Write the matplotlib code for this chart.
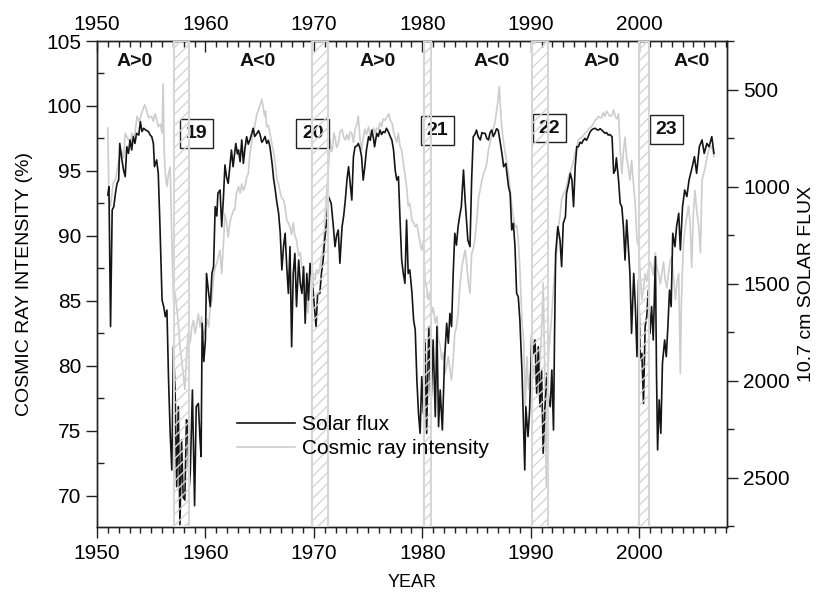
import matplotlib
matplotlib.use("Agg")
import matplotlib.pyplot as plt
from matplotlib.ticker import MultipleLocator
from matplotlib.lines import Line2D

plt.rcParams['font.family'] = ['Liberation Sans', 'DejaVu Sans']
plt.rcParams['hatch.linewidth'] = 1.0

# 10.7 cm solar flux (right axis, inverted) as (year, flux)
solar_flux = [
    (1951.0, 1042), (1951.1, 999), (1951.25, 1720), (1951.4, 1119), (1951.55, 1102), (1951.7, 1033),
    (1951.85, 982), (1952.0, 965), (1952.1, 776), (1952.3, 861), (1952.45, 913), (1952.6, 947),
    (1952.75, 793), (1952.9, 827), (1953.05, 758), (1953.2, 810), (1953.35, 741), (1953.5, 776),
    (1953.65, 724), (1953.85, 733), (1954.0, 664), (1954.15, 715), (1954.3, 698), (1954.5, 707),
    (1954.75, 715), (1954.9, 733), (1955.05, 741), (1955.2, 776), (1955.3, 896), (1955.5, 861),
    (1955.65, 930), (1955.8, 1188), (1956.0, 1583), (1956.15, 1617), (1956.3, 1669), (1956.45, 1635),
    (1956.6, 1995), (1956.75, 2270), (1956.9, 2459), (1957.05, 1824), (1957.2, 2047), (1957.35, 2545),
    (1957.5, 2133), (1957.65, 2740), (1957.8, 2305), (1957.95, 2600), (1958.1, 2614), (1958.25, 2200),
    (1958.35, 2219), (1958.5, 2550), (1958.6, 2476), (1958.8, 2047), (1959.0, 2643), (1959.15, 2133),
    (1959.35, 2116), (1959.5, 2300), (1959.6, 2390), (1959.7, 1703), (1959.85, 1900), (1960.0, 1789),
    (1960.1, 1446), (1960.3, 1550), (1960.45, 1617), (1960.6, 1446), (1960.75, 1411), (1960.9, 1102),
    (1961.05, 1150), (1961.15, 1033), (1961.35, 1016), (1961.5, 1205), (1961.65, 1068), (1961.8, 887),
    (1961.95, 950), (1962.1, 982), (1962.25, 896), (1962.4, 810), (1962.55, 896), (1962.8, 776),
    (1962.95, 830), (1963.05, 810), (1963.2, 870), (1963.35, 758), (1963.5, 879), (1963.65, 800),
    (1963.8, 741), (1963.95, 780), (1964.1, 758), (1964.25, 730), (1964.4, 698), (1964.55, 740),
    (1964.75, 724), (1964.9, 710), (1965.05, 733), (1965.2, 770), (1965.35, 758), (1965.5, 740),
    (1965.65, 776), (1965.8, 760), (1965.95, 793), (1966.15, 880), (1966.3, 965), (1966.4, 999),
    (1966.6, 1085), (1966.75, 1136), (1966.9, 1239), (1967.05, 1428), (1967.2, 1308), (1967.35, 1239),
    (1967.5, 1411), (1967.65, 1549), (1967.8, 1308), (1967.95, 1824), (1968.1, 1446), (1968.25, 1343),
    (1968.4, 1617), (1968.6, 1377), (1968.75, 1500), (1968.9, 1549), (1969.05, 1411), (1969.2, 1703),
    (1969.35, 1446), (1969.5, 1583), (1969.65, 1394), (1969.85, 1480), (1970.05, 1617), (1970.2, 1720),
    (1970.35, 1549), (1970.55, 1549), (1970.7, 1446), (1970.85, 1380), (1971.0, 1274), (1971.2, 1171),
    (1971.35, 1050), (1971.6, 1085), (1971.8, 1205), (1971.95, 1308), (1972.1, 1250), (1972.25, 1222),
    (1972.4, 1394), (1972.6, 1205), (1972.75, 1150), (1972.9, 1068), (1973.05, 965), (1973.2, 896),
    (1973.35, 980), (1973.5, 1068), (1973.65, 844), (1973.8, 793), (1973.95, 790), (1974.1, 776),
    (1974.25, 800), (1974.4, 844), (1974.55, 965), (1974.7, 896), (1974.85, 810), (1975.05, 741),
    (1975.2, 760), (1975.35, 707), (1975.5, 750), (1975.6, 793), (1975.8, 724), (1975.95, 740),
    (1976.1, 707), (1976.25, 730), (1976.4, 715), (1976.55, 720), (1976.7, 698), (1976.9, 720),
    (1977.05, 741), (1977.2, 760), (1977.35, 810), (1977.5, 913), (1977.65, 965), (1977.8, 947),
    (1977.95, 1171), (1978.1, 1377), (1978.25, 1446), (1978.4, 1497), (1978.55, 1171), (1978.7, 1446),
    (1978.85, 1428), (1979.05, 1549), (1979.2, 1686), (1979.35, 1738), (1979.5, 1995), (1979.65, 2167),
    (1979.8, 2270), (1979.95, 1978), (1980.1, 2167), (1980.25, 1789), (1980.4, 2270), (1980.6, 1720),
    (1980.8, 2133), (1981.0, 1789), (1981.2, 2184), (1981.35, 1720), (1981.5, 2236), (1981.65, 2047),
    (1981.85, 2253), (1982.05, 1892), (1982.25, 1703), (1982.4, 1806), (1982.55, 1652), (1982.7, 1720),
    (1982.85, 1446), (1983.0, 1239), (1983.15, 1300), (1983.3, 1205), (1983.45, 1150), (1983.6, 1102),
    (1983.8, 913), (1983.95, 1068), (1984.05, 1150), (1984.2, 1274), (1984.4, 1308), (1984.55, 965),
    (1984.7, 741), (1984.85, 730), (1985.0, 707), (1985.15, 740), (1985.35, 758), (1985.5, 720),
    (1985.65, 724), (1985.8, 724), (1985.95, 750), (1986.1, 758), (1986.25, 720), (1986.4, 707),
    (1986.55, 740), (1986.7, 724), (1986.85, 700), (1987.0, 707), (1987.1, 740), (1987.25, 793),
    (1987.4, 850), (1987.5, 896), (1987.7, 879), (1987.95, 999), (1988.1, 1033), (1988.25, 1222),
    (1988.4, 1188), (1988.55, 1308), (1988.7, 1549), (1988.85, 1566), (1989.0, 1686), (1989.2, 1961),
    (1989.35, 2270), (1989.45, 2459), (1989.55, 2133), (1989.75, 2287), (1989.9, 2150), (1990.1, 1755),
    (1990.25, 1858), (1990.4, 1789), (1990.55, 2064), (1990.7, 1824), (1990.85, 2133), (1991.0, 1944),
    (1991.15, 2373), (1991.3, 2150), (1991.5, 1961), (1991.65, 2098), (1991.8, 2133), (1991.95, 1944),
    (1992.1, 2253), (1992.2, 1755), (1992.3, 1343), (1992.5, 1205), (1992.7, 1274), (1992.85, 1411),
    (1993.0, 1188), (1993.2, 1154), (1993.3, 1033), (1993.5, 982), (1993.65, 930), (1993.8, 965),
    (1993.95, 1102), (1994.1, 896), (1994.25, 793), (1994.4, 793), (1994.55, 770), (1994.7, 776),
    (1994.85, 760), (1995.0, 750), (1995.15, 760), (1995.3, 741), (1995.45, 720), (1995.6, 707),
    (1995.8, 700), (1995.95, 698), (1996.1, 705), (1996.25, 707), (1996.4, 700), (1996.55, 707),
    (1996.7, 715), (1996.85, 724), (1997.0, 720), (1997.15, 733), (1997.3, 730), (1997.5, 741),
    (1997.65, 930), (1997.8, 913), (1997.9, 850), (1998.1, 965), (1998.25, 1085), (1998.4, 1102),
    (1998.55, 1205), (1998.7, 1377), (1998.85, 1171), (1999.0, 1308), (1999.15, 1446), (1999.3, 1755),
    (1999.5, 1446), (1999.65, 1617), (1999.8, 1875), (1999.95, 1480), (2000.1, 1892), (2000.25, 1858),
    (2000.4, 2116), (2000.55, 1720), (2000.7, 1669), (2000.85, 1532), (2001.0, 1755), (2001.15, 1617),
    (2001.3, 1789), (2001.5, 1360), (2001.6, 1961), (2001.7, 2356), (2001.85, 2098), (2002.0, 2270),
    (2002.15, 1909), (2002.35, 1789), (2002.5, 1875), (2002.65, 1720), (2002.8, 1532), (2002.95, 1617),
    (2003.1, 1239), (2003.3, 1308), (2003.45, 1205), (2003.65, 1136), (2003.8, 1325), (2004.0, 1102),
    (2004.2, 1016), (2004.4, 1050), (2004.6, 965), (2004.9, 896), (2005.1, 844), (2005.3, 930),
    (2005.55, 793), (2005.8, 758), (2006.0, 827), (2006.25, 776), (2006.45, 793), (2006.7, 741),
    (2006.9, 827),
]

# cosmic ray intensity (left axis, %) as (year, value)
cosmic_ray = [
    (1951.0, 98.3), (1951.1, 93.0), (1951.25, 92.3), (1951.5, 94.1), (1951.7, 94.3), (1951.85, 95.0),
    (1952.0, 95.8), (1952.25, 96.6), (1952.45, 96.0), (1952.6, 97.9), (1952.9, 97.4), (1953.1, 97.1),
    (1953.2, 97.9), (1953.45, 97.6), (1953.7, 99.2), (1953.9, 98.8), (1954.1, 99.4), (1954.4, 100.1),
    (1954.6, 99.6), (1954.75, 99.1), (1955.05, 99.2), (1955.2, 98.8), (1955.35, 99.4), (1955.5, 99.0),
    (1955.65, 98.4), (1955.85, 98.6), (1956.0, 97.9), (1956.1, 101.7), (1956.2, 96.5), (1956.3, 94.8),
    (1956.45, 93.8), (1956.6, 94.8), (1956.75, 95.3), (1956.9, 89.7), (1957.05, 85.1), (1957.2, 85.6),
    (1957.35, 84.5), (1957.5, 83.3), (1957.65, 81.5), (1957.8, 80.5), (1957.95, 79.4), (1958.1, 78.2),
    (1958.25, 80.5), (1958.4, 82.5), (1958.6, 81.8), (1958.75, 83.0), (1958.9, 83.5), (1959.05, 82.5),
    (1959.2, 83.2), (1959.35, 84.0), (1959.5, 83.0), (1959.65, 83.8), (1959.8, 82.3), (1960.0, 82.8),
    (1960.15, 83.6), (1960.3, 83.0), (1960.45, 84.6), (1960.6, 85.1), (1960.75, 86.8), (1960.9, 87.6),
    (1961.05, 87.9), (1961.2, 88.4), (1961.35, 88.9), (1961.5, 87.1), (1961.65, 89.2), (1961.8, 91.7),
    (1961.95, 91.0), (1962.1, 89.9), (1962.25, 91.0), (1962.4, 91.5), (1962.6, 92.0), (1962.7, 92.0),
    (1962.85, 93.2), (1963.05, 93.8), (1963.2, 93.3), (1963.35, 94.0), (1963.5, 93.5), (1963.65, 93.8),
    (1963.8, 94.5), (1963.95, 94.8), (1964.1, 96.3), (1964.3, 97.4), (1964.45, 98.0), (1964.6, 98.7),
    (1964.75, 99.4), (1964.9, 99.7), (1965.05, 100.1), (1965.2, 100.5), (1965.35, 99.8), (1965.45, 99.2),
    (1965.55, 99.6), (1965.65, 98.4), (1965.8, 98.5), (1965.95, 97.9), (1966.15, 97.0), (1966.3, 96.4),
    (1966.45, 95.5), (1966.6, 94.3), (1966.75, 94.0), (1966.9, 93.3), (1967.05, 92.9), (1967.2, 92.8),
    (1967.35, 92.2), (1967.5, 91.2), (1967.65, 91.0), (1967.8, 90.7), (1967.95, 90.1), (1968.1, 91.0),
    (1968.25, 90.0), (1968.4, 89.7), (1968.6, 88.5), (1968.75, 88.7), (1968.9, 87.5), (1969.05, 87.6),
    (1969.2, 85.1), (1969.35, 85.4), (1969.45, 84.1), (1969.65, 86.6), (1969.8, 87.9), (1969.95, 86.8),
    (1970.1, 86.6), (1970.25, 87.4), (1970.4, 87.1), (1970.55, 87.5), (1970.7, 88.4), (1970.85, 89.0),
    (1971.0, 90.7), (1971.15, 93.0), (1971.35, 95.3), (1971.5, 97.4), (1971.6, 96.5), (1971.7, 96.6),
    (1971.85, 97.9), (1971.95, 97.6), (1972.1, 96.8), (1972.25, 97.1), (1972.4, 98.0), (1972.6, 98.2),
    (1972.75, 97.6), (1972.9, 97.4), (1973.05, 97.8), (1973.2, 97.4), (1973.35, 98.0), (1973.5, 97.9),
    (1973.65, 97.2), (1973.8, 98.2), (1974.0, 98.7), (1974.1, 99.2), (1974.25, 97.5), (1974.4, 96.6),
    (1974.55, 97.5), (1974.7, 98.2), (1974.85, 97.8), (1975.05, 98.4), (1975.2, 97.6), (1975.35, 97.9),
    (1975.5, 98.3), (1975.65, 97.9), (1975.8, 98.3), (1975.95, 98.2), (1976.1, 98.7), (1976.25, 98.4),
    (1976.4, 99.0), (1976.55, 98.9), (1976.7, 99.1), (1976.9, 99.4), (1977.05, 98.9), (1977.2, 98.7),
    (1977.35, 98.0), (1977.5, 97.6), (1977.65, 97.2), (1977.8, 97.9), (1977.95, 96.9), (1978.1, 96.6),
    (1978.25, 95.6), (1978.4, 94.8), (1978.55, 93.8), (1978.7, 92.3), (1978.85, 92.5), (1979.05, 91.2),
    (1979.2, 91.0), (1979.35, 90.7), (1979.5, 90.9), (1979.65, 90.2), (1979.8, 89.4), (1979.95, 88.9),
    (1980.1, 89.7), (1980.25, 86.6), (1980.4, 86.0), (1980.55, 85.1), (1980.7, 85.5), (1980.85, 84.0),
    (1981.0, 84.5), (1981.2, 83.3), (1981.35, 83.8), (1981.5, 82.0), (1981.65, 81.5), (1981.8, 80.5),
    (1981.95, 81.0), (1982.1, 79.4), (1982.25, 80.0), (1982.4, 80.7), (1982.55, 79.7), (1982.7, 78.9),
    (1982.85, 80.5), (1983.0, 82.5), (1983.15, 83.0), (1983.3, 84.0), (1983.45, 86.0), (1983.65, 87.6),
    (1983.8, 88.3), (1983.95, 88.9), (1984.1, 87.8), (1984.25, 86.4), (1984.4, 85.6), (1984.55, 88.6),
    (1984.7, 89.0), (1984.85, 89.7), (1985.0, 91.0), (1985.2, 93.0), (1985.35, 93.6), (1985.5, 94.3),
    (1985.65, 94.8), (1985.8, 95.1), (1985.95, 95.6), (1986.1, 96.6), (1986.25, 97.2), (1986.4, 97.7),
    (1986.55, 98.3), (1986.7, 98.7), (1986.85, 99.6), (1986.95, 100.2), (1987.1, 101.5), (1987.2, 100.0),
    (1987.3, 98.7), (1987.45, 97.5), (1987.6, 96.6), (1987.75, 95.9), (1987.95, 94.8), (1988.1, 93.6),
    (1988.25, 92.3), (1988.4, 91.5), (1988.55, 90.7), (1988.7, 90.8), (1988.85, 89.7), (1989.0, 87.5),
    (1989.2, 83.3), (1989.35, 82.0), (1989.5, 76.9), (1989.65, 80.7), (1989.8, 78.2), (1989.95, 79.4),
    (1990.1, 78.2), (1990.25, 80.0), (1990.4, 79.4), (1990.55, 78.5), (1990.7, 78.9), (1990.85, 80.3),
    (1991.0, 82.5), (1991.15, 86.4), (1991.3, 79.4), (1991.45, 70.7), (1991.55, 78.0), (1991.65, 81.0),
    (1991.8, 82.5), (1991.95, 84.0), (1992.1, 86.0), (1992.25, 87.6), (1992.4, 88.8), (1992.55, 90.7),
    (1992.7, 91.5), (1992.85, 92.8), (1993.0, 93.2), (1993.2, 93.5), (1993.35, 94.0), (1993.5, 94.6),
    (1993.65, 94.9), (1993.8, 95.3), (1993.95, 95.8), (1994.1, 96.4), (1994.25, 96.9), (1994.4, 97.4),
    (1994.55, 97.5), (1994.7, 97.6), (1994.85, 97.7), (1995.0, 97.9), (1995.15, 98.0), (1995.3, 98.2),
    (1995.45, 98.3), (1995.6, 98.4), (1995.8, 98.7), (1995.95, 98.9), (1996.1, 99.0), (1996.25, 99.2),
    (1996.4, 99.1), (1996.55, 99.1), (1996.7, 99.5), (1996.85, 99.2), (1997.0, 99.6), (1997.15, 99.4),
    (1997.3, 99.2), (1997.5, 99.3), (1997.65, 99.7), (1997.8, 99.2), (1997.95, 99.0), (1998.1, 99.4),
    (1998.25, 96.6), (1998.4, 94.8), (1998.55, 96.5), (1998.7, 97.6), (1998.85, 96.0), (1999.0, 95.3),
    (1999.15, 94.3), (1999.3, 95.8), (1999.45, 94.3), (1999.65, 92.3), (1999.8, 89.7), (1999.95, 89.2),
    (2000.1, 87.0), (2000.25, 85.1), (2000.4, 86.0), (2000.55, 87.1), (2000.7, 86.5), (2000.85, 87.4),
    (2001.0, 88.0), (2001.15, 87.6), (2001.3, 87.0), (2001.5, 88.7), (2001.65, 87.5), (2001.8, 87.1),
    (2001.95, 86.3), (2002.1, 87.1), (2002.25, 88.0), (2002.4, 86.6), (2002.55, 86.0), (2002.7, 87.1),
    (2002.85, 88.0), (2003.0, 88.4), (2003.15, 87.0), (2003.35, 85.1), (2003.5, 86.5), (2003.65, 87.1),
    (2003.8, 79.4), (2003.9, 85.0), (2004.0, 87.6), (2004.1, 89.5), (2004.25, 90.7), (2004.4, 91.5),
    (2004.55, 92.3), (2004.7, 91.0), (2004.85, 87.6), (2005.0, 91.8), (2005.15, 93.5), (2005.3, 92.0),
    (2005.5, 90.7), (2005.65, 88.7), (2005.8, 94.3), (2005.95, 94.8), (2006.1, 95.3), (2006.25, 96.0),
    (2006.4, 96.6), (2006.55, 96.8), (2006.7, 96.9), (2006.9, 96.1),
]

# polarity reversal intervals (hatched) and annotations
reversals = [(1957.1, 1958.5), (1969.85, 1971.3), (1980.2, 1980.8), (1990.1, 1991.6), (2000.0, 2000.95)]
polarity_labels = ["A>0", "A<0", "A>0", "A<0", "A>0", "A<0"]
polarity_x = [1953.5, 1964.8, 1975.9, 1986.4, 1996.5, 2004.8]
cycle_labels = ["19", "20", "21", "22", "23"]
cycle_x = [1959.2, 1969.9, 1981.4, 1991.7, 2002.5]
cycle_y = [97.9, 97.9, 98.1, 98.3, 98.2]

flux_years, flux_vals = zip(*solar_flux)
cr_years, cr_vals = zip(*cosmic_ray)

fig = plt.figure(figsize=(8.22, 5.96), dpi=100)
ax = fig.add_axes([0.118, 0.1158, 0.7664, 0.8154])
ax2 = ax.twinx()

dark = '#222222'
ax.plot(cr_years, cr_vals, color='#cdcdcd', lw=1.2, zorder=2)
ax2.plot(flux_years, flux_vals, color='#151515', lw=1.2, zorder=2)

ax.set_xlim(1950, 2008.1)
ax.set_ylim(67.6, 105)
ax2.set_ylim(2753, 248)

# hatched reversal bands sit on top of both curves
for x0, x1 in reversals:
    ax2.axvspan(x0, x1, facecolor='none', edgecolor='#d6d6d6', hatch='///', lw=1.5, zorder=4)

for lab, x in zip(polarity_labels, polarity_x):
    ax2.text(x, 103.4, lab, transform=ax.transData, ha='center', va='center',
             fontsize=14, fontweight='bold', color='#111111', zorder=5)

for lab, x, y in zip(cycle_labels, cycle_x, cycle_y):
    ax2.text(x, y, lab, transform=ax.transData, ha='center', va='center',
             fontsize=14, fontweight='bold', color='#111111', zorder=3,
             bbox=dict(boxstyle='square,pad=0.3', facecolor='none', edgecolor='#222222', lw=1.0))

# ticks: left major out / minor in, bottom out, right out, top in
ax.xaxis.set_major_locator(MultipleLocator(10))
ax.xaxis.set_minor_locator(MultipleLocator(1))
ax.yaxis.set_major_locator(MultipleLocator(5))
ax.yaxis.set_minor_locator(MultipleLocator(2.5))
ax2.yaxis.set_major_locator(MultipleLocator(500))
ax2.yaxis.set_minor_locator(MultipleLocator(250))

tick_font = 15
ax.xaxis.set_ticks_position('bottom')
ax.tick_params(axis='x', which='major', direction='out', length=8, width=1, color=dark, labelsize=tick_font, pad=4)
ax.tick_params(axis='x', which='minor', direction='out', length=4, width=1, color=dark)
ax.tick_params(axis='y', which='major', direction='out', length=8, width=1, color=dark, labelsize=tick_font)
ax.tick_params(axis='y', which='minor', direction='in', length=5, width=1, color=dark)
ax2.tick_params(axis='y', which='major', direction='out', length=8, width=1, color=dark, labelsize=tick_font)
ax2.tick_params(axis='y', which='minor', direction='out', length=5, width=1, color=dark)

# year scale repeated along the top, ticks pointing in
ax2.xaxis.set_visible(True)
ax2.xaxis.set_ticks_position('top')
ax2.xaxis.set_major_locator(MultipleLocator(10))
ax2.xaxis.set_minor_locator(MultipleLocator(1))
ax2.tick_params(axis='x', which='major', direction='in', length=8, width=1, color=dark, labelsize=tick_font, pad=5)
ax2.tick_params(axis='x', which='minor', direction='in', length=4, width=1, color=dark)

for a in (ax, ax2):
    for s in a.spines.values():
        s.set_color(dark)
        s.set_linewidth(1.0)

ax.set_xlabel('YEAR', fontsize=13, labelpad=8)
ax.set_ylabel('COSMIC RAY INTENSITY (%)', fontsize=14, labelpad=9)
ax2.set_ylabel('10.7 cm SOLAR FLUX', fontsize=14, labelpad=6)

handles = [Line2D([], [], color='#151515', lw=1.2), Line2D([], [], color='#cdcdcd', lw=1.2)]
ax2.legend(handles, ['Solar flux', 'Cosmic ray intensity'], loc='upper left',
           bbox_to_anchor=(237 / 822, 1 - 415 / 596), bbox_transform=fig.transFigure,
           frameon=False, fontsize=15, handlelength=2.8, handletextpad=0.3,
           labelspacing=0.25, borderpad=0, borderaxespad=0)

fig.savefig('out.png', dpi=100)
